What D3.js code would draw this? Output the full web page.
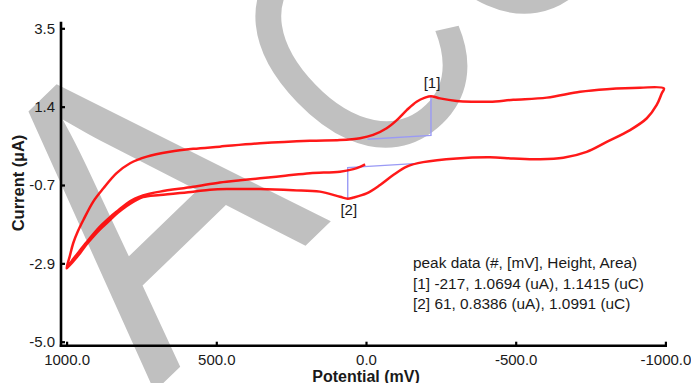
<!DOCTYPE html>
<html><head><meta charset="utf-8">
<script src="https://cdn.jsdelivr.net/npm/d3@7"></script>
<style>body{margin:0;background:#fff}svg{display:block}</style>
</head><body>
<svg id="c" width="691" height="383"></svg>
<script>
// ---- data ----
const xTicks = [1000, 500, 0, -500, -1000];
const xTickLabels = ["1000.0", "500.0", "0.0", "-500.0", "-1000.0"];
const yTicks = [3.5, 1.375, -0.75, -2.875, -5.0];
const yTickLabels = ["3.5", "1.4", "-0.7", "-2.9", "-5.0"];

// scan: start near 0 mV -> +1000 -> -1000 -> +1000
const potential = [3, 20, 42, 87, 187, 270, 354, 420, 488, 577, 688, 745, 772, 799, 828, 855, 884, 911, 935, 955, 980,
  1000, 990, 978, 962, 944, 911, 877, 833, 788, 732, 655, 577, 488, 354, 187, 87, 20, -24, -69, -103, -136, -169, -197, -217, -247, -303, -358, -414, -492, -604, -715, -804, -915, -995,
  -988, -971, -938, -882, -804, -737, -659, -581, -492, -414, -303, -191, -136, -91, -47, -2, 42, 61, 87, 154, 243, 354, 465, 521, 577, 688, 745, 772, 799, 828, 855, 884, 911, 935, 955, 980, 1000];
const current = [-0.19, -0.26, -0.32, -0.39, -0.43, -0.50, -0.57, -0.62, -0.68, -0.80, -0.93, -1.03, -1.12, -1.25, -1.44, -1.62, -1.84, -2.08, -2.32, -2.52, -2.78,
  -3.01, -2.70, -2.33, -2.00, -1.70, -1.20, -0.84, -0.43, -0.16, 0.02, 0.15, 0.23, 0.29, 0.38, 0.45, 0.47, 0.52, 0.61, 0.79, 1.01, 1.28, 1.51, 1.62, 1.66, 1.60, 1.53, 1.51, 1.51, 1.56, 1.62, 1.78, 1.85, 1.89, 1.87,
  1.74, 1.42, 1.06, 0.74, 0.42, 0.15, -0.01, -0.05, -0.03, 0.00, -0.03, -0.13, -0.25, -0.48, -0.75, -0.98, -1.09, -1.12, -1.07, -0.93, -0.89, -0.86, -0.86, -0.88, -0.93, -1.02, -1.08, -1.18, -1.32, -1.50, -1.70, -1.92, -2.15, -2.38, -2.60, -2.84, -3.01];

const peakLabels = ["[1]", "[2]"];
const peakPotential = [-217, 61];
const peakCurrent = [1.664, -1.116];
const peakHeight = [1.0694, -0.8386];
const baseEndPotential = [-5, -160];
const baseEndCurrent = [0.49, -0.17];

const peakText = ["peak data (#, [mV], Height, Area)",
  "[1] -217, 1.0694 (uA), 1.1415 (uC)",
  "[2] 61, 0.8386 (uA), 1.0991 (uC)"];
const watermarkFirst = "A";
const watermarkRest = "CCEPTED MANUSCRIPT";

// ---- drawing ----
const svg = d3.select("#c");
const FONT = "'Liberation Sans', Arial, sans-serif";

svg.append("text").text(watermarkFirst)
  .attr("transform", "translate(154,392) rotate(-44) scale(0.88,1)")
  .attr("font-family", FONT).attr("font-size", 420).attr("fill", "#c0c0c0");
svg.append("text").text(watermarkRest)
  .attr("transform", "translate(366,193) rotate(-44) scale(0.82,1)")
  .attr("font-family", FONT).attr("font-size", 326).attr("fill", "#c0c0c0");

const x = d3.scaleLinear().domain([1000, -1000]).range([66.6, 665.4]);
const y = d3.scaleLinear().domain([-5.0, 3.5]).range([341.7, 28.3]);

const axL = 61, axB = 345.7;

// blue peak construction lines
const g = svg.append("g");
peakPotential.forEach((p, i) => {
  const base = peakCurrent[i] - peakHeight[i];
  g.append("path")
    .attr("d", d3.line()([[x(p), y(peakCurrent[i])], [x(p), y(base)], [x(baseEndPotential[i]), y(baseEndCurrent[i])]]))
    .attr("fill", "none").attr("stroke", "#9a9af5").attr("stroke-width", 1.4);
});

// CV curve
const pts = potential.map((p, i) => [x(p), y(current[i])]);
svg.append("path")
  .attr("d", d3.line().curve(d3.curveCatmullRom.alpha(0.5))(pts))
  .attr("fill", "none").attr("stroke", "#ff0000").attr("stroke-width", 2.5)
  .attr("stroke-opacity", 0.9).attr("stroke-linejoin", "round");

// peak labels
peakPotential.forEach((p, i) => {
  svg.append("text").text(peakLabels[i])
    .attr("x", x(p) + 1).attr("y", i === 0 ? y(peakCurrent[i]) - 8 : y(peakCurrent[i]) + 17)
    .attr("text-anchor", "middle").attr("font-family", FONT).attr("font-size", 15).attr("fill", "#1a1a1a");
});

// axes
const xAxis = d3.axisBottom(x).tickValues(xTicks).tickFormat((d, i) => xTickLabels[i]).tickSize(-4).tickPadding(9);
const yAxis = d3.axisLeft(y).tickValues(yTicks).tickFormat((d, i) => yTickLabels[i]).tickSize(-4).tickPadding(7);
const gx = svg.append("g").attr("transform", `translate(0,${axB})`).call(xAxis);
const gy = svg.append("g").attr("transform", `translate(${axL},0)`).call(yAxis);
[gx, gy].forEach(a => {
  a.select(".domain").remove();
  a.selectAll(".tick line").attr("stroke", "#000").attr("stroke-width", 2.2);
  a.selectAll(".tick text").attr("font-family", FONT).attr("font-size", 15).attr("fill", "#1a1a1a");
});
gy.selectAll(".tick text").attr("x", -6);
svg.append("line").attr("x1", axL).attr("x2", axL).attr("y1", 21.7).attr("y2", axB + 1.2)
  .attr("stroke", "#000").attr("stroke-width", 2.6);
svg.append("line").attr("x1", axL - 1.2).attr("x2", 667).attr("y1", axB).attr("y2", axB)
  .attr("stroke", "#000").attr("stroke-width", 2.6);

// axis titles
svg.append("text").text("Potential (mV)")
  .attr("x", 366).attr("y", 381.5).attr("text-anchor", "middle")
  .attr("font-family", FONT).attr("font-weight", "bold").attr("font-size", 16).attr("fill", "#1a1a1a");
svg.append("text").text("Current (µA)")
  .attr("transform", "translate(24,183) rotate(-90)").attr("text-anchor", "middle")
  .attr("font-family", FONT).attr("font-weight", "bold").attr("font-size", 16.5).attr("fill", "#1a1a1a");

// peak data text
svg.append("g").selectAll("text").data(peakText).join("text")
  .attr("x", 413).attr("y", (d, i) => 268 + i * 20.5).text(d => d)
  .attr("font-family", FONT).attr("font-size", 15.4).attr("fill", "#1a1a1a");
</script>
</body></html>
